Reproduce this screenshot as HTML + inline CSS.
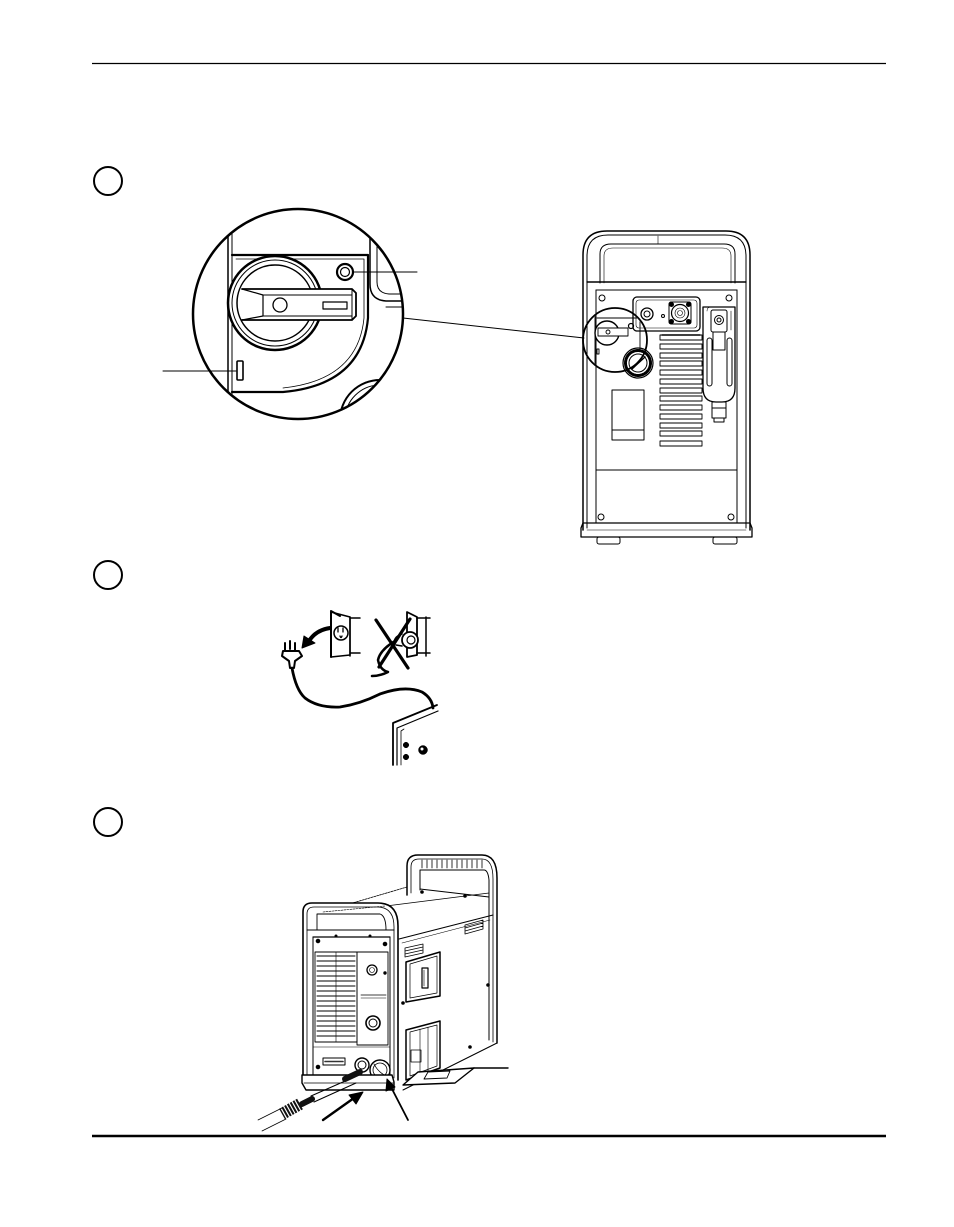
<!DOCTYPE html>
<html><head><meta charset="utf-8"><style>
html,body{margin:0;padding:0;background:#fff;}
svg{display:block;}
</style></head><body>
<svg width="954" height="1227" viewBox="0 0 954 1227" xmlns="http://www.w3.org/2000/svg" fill="none" stroke="#000" stroke-linejoin="round" stroke-linecap="round">
<defs>
<clipPath id="mag"><circle cx="298" cy="314" r="104"/></clipPath>
<clipPath id="mag2"><circle cx="615" cy="340" r="31"/></clipPath>
</defs>
<rect x="0" y="0" width="954" height="1227" fill="#fff" stroke="none"/>
<!-- rules -->
<line x1="92" y1="63.5" x2="886" y2="63.5" stroke-width="1.2" stroke-linecap="butt"/>
<line x1="92" y1="1136" x2="886" y2="1136" stroke-width="2.6" stroke-linecap="butt"/>
<!-- step circles -->
<circle cx="108" cy="181" r="14" stroke-width="2"/>
<circle cx="108" cy="575" r="14" stroke-width="2"/>
<circle cx="108" cy="822" r="14" stroke-width="2"/>

<!-- ===== SECTION 1: magnifier ===== -->
<circle cx="298" cy="314" r="105" fill="#fff" stroke-width="2.5"/>
<g clip-path="url(#mag)">
  <line x1="228" y1="200" x2="228" y2="430" stroke-width="1.5"/>
  <line x1="232" y1="200" x2="232" y2="430" stroke-width="1"/>
  <!-- panel -->
  <path d="M232,255 H368 V318 Q362,385 283,392 H232" stroke-width="2.2"/>
  <path d="M236,259 H364 V318 Q358,380 283,388" stroke-width="0.8"/>
  <!-- right bracket -->
  <path d="M370,200 V284 Q370,300 386,301 H410" stroke-width="1.5"/>
  <path d="M377,200 V282 Q377,293 389,294 H410" stroke-width="1"/>
  <line x1="386" y1="307" x2="410" y2="307" stroke-width="1"/>
  <!-- knob -->
  <circle cx="275" cy="303" r="47" stroke-width="2.5" fill="#fff"/>
  <circle cx="275" cy="303" r="43" stroke-width="1"/>
  <circle cx="275" cy="303" r="38" stroke-width="1.5"/>
  <!-- lever -->
  <path d="M242,289 H352 L356,293 V316 L352,320 H242" fill="#fff" stroke-width="1.8"/>
  <path d="M242,289 L263,295 V316 L242,320" stroke-width="1.2"/>
  <path d="M263,295 H352 M263,316 H352 M352,289 V320" stroke-width="1"/>
  <circle cx="280" cy="305" r="7" stroke-width="1.3"/>
  <rect x="323" y="302" width="24" height="7" stroke-width="1.2"/>
  <!-- button -->
  <circle cx="345" cy="272" r="8" stroke-width="2.2"/>
  <circle cx="345" cy="272" r="4.5" stroke-width="1.2"/>
  <!-- indicator -->
  <rect x="237" y="361" width="6" height="19" rx="1" stroke-width="1.6"/>
  <!-- lower right knob -->
  <circle cx="380" cy="420" r="40" stroke-width="2"/>
  <circle cx="380" cy="420" r="35" stroke-width="1"/>
  <path d="M345,420 Q360,395 385,388 M355,430 Q370,400 398,398" stroke-width="1"/>
</g>
<!-- leaders -->
<line x1="163" y1="371" x2="236" y2="371" stroke-width="1"/>
<line x1="354" y1="272" x2="417" y2="272" stroke-width="1"/>
<line x1="403" y1="318" x2="584" y2="338" stroke-width="1"/>

<!-- ===== SECTION 1: machine rear ===== -->
<g stroke-width="1">
  <path d="M583,530 V255 Q583,231 607,231 H726 Q750,231 750,255 V530" stroke-width="1.5"/>
  <path d="M587,528 V256 Q587,235 608,235 H725 Q746,235 746,256 V528"/>
  <path d="M600,283 V254 Q600,244 611,244 H724 Q735,244 735,254 V283"/>
  <path d="M604,283 V256 Q604,248 613,248 H722 Q731,248 731,256 V283" stroke-width="0.6"/>
  <line x1="658" y1="236" x2="658" y2="244" stroke-width="0.6"/>
  <line x1="587" y1="282" x2="746" y2="282" stroke-width="1.4"/>
  <line x1="596" y1="290" x2="737" y2="290"/>
  <line x1="596" y1="290" x2="596" y2="523"/>
  <line x1="737" y1="290" x2="737" y2="523"/>
  <line x1="596" y1="470" x2="737" y2="470"/>
  <!-- base -->
  <path d="M583,523 H750 L752,528 V537 H581 V528 Z" stroke-width="1.3"/>
  <line x1="587" y1="530" x2="746" y2="530" stroke-width="0.6"/>
  <rect x="597" y="537" width="23" height="7" rx="2"/>
  <rect x="713" y="537" width="24" height="7" rx="2"/>
  <!-- screws -->
  <circle cx="602" cy="298" r="3"/><circle cx="729" cy="298" r="3"/>
  <circle cx="601" cy="517" r="3"/><circle cx="731" cy="517" r="3"/>
  <!-- connector panel -->
  <rect x="633" y="297" width="67" height="34" rx="4" stroke-width="1.3"/>
  <rect x="636" y="300" width="61" height="28" rx="3" stroke-width="0.6"/>
  <circle cx="647" cy="314" r="6" stroke-width="1.3"/>
  <circle cx="647" cy="314" r="3"/>
  <circle cx="663" cy="316" r="1.5"/>
  <rect x="669" y="302" width="22" height="22" rx="2"/>
  <circle cx="680" cy="313" r="8.5" stroke-width="1.2"/>
  <circle cx="680" cy="313" r="5" stroke-width="0.6"/>
  <circle cx="680" cy="313" r="2.5" stroke-width="0.6"/>
  <circle cx="671.5" cy="304.5" r="2" fill="#000"/><circle cx="688.5" cy="304.5" r="2" fill="#000"/>
  <circle cx="671.5" cy="321.5" r="2" fill="#000"/><circle cx="688.5" cy="321.5" r="2" fill="#000"/>
  <!-- vents -->
  <g stroke-width="0.9">
    <rect x="660" y="335" width="42" height="5"/><rect x="660" y="344" width="42" height="5"/>
    <rect x="660" y="353" width="42" height="5"/><rect x="660" y="361" width="42" height="5"/>
    <rect x="660" y="370" width="42" height="5"/><rect x="660" y="379" width="42" height="5"/>
    <rect x="660" y="388" width="42" height="5"/><rect x="660" y="396" width="42" height="5"/>
    <rect x="660" y="405" width="42" height="5"/><rect x="660" y="414" width="42" height="5"/>
    <rect x="660" y="423" width="42" height="5"/><rect x="660" y="431" width="42" height="5"/>
    <rect x="660" y="441" width="42" height="5"/>
  </g>
  <line x1="662" y1="335" x2="700" y2="335" stroke-width="1.6"/>
  <!-- left rect -->
  <rect x="612" y="390" width="32" height="50"/>
  <line x1="612" y1="430" x2="644" y2="430"/>
  <!-- filter -->
  <path d="M703,307 H735 V388 Q735,402 722,402 H716 Q703,402 703,388 Z" stroke-width="1.3"/>
  <path d="M707,311 Q707,307 711,307 M731,311 V330" stroke-width="0.6"/>
  <rect x="711" y="310" width="16" height="22" rx="2"/>
  <circle cx="719" cy="320" r="4.5"/><circle cx="719" cy="320" r="2"/>
  <rect x="707" y="338" width="5" height="48" rx="2.5"/>
  <rect x="727" y="338" width="5" height="48" rx="2.5"/>
  <path d="M713,332 V350 H725 V332"/>
  <rect x="712" y="402" width="14" height="16"/>
  <line x1="712" y1="408" x2="726" y2="408"/>
  <rect x="714" y="418" width="10" height="4"/>
  <!-- knob -->
  <circle cx="638" cy="363" r="15" stroke-width="1.2" fill="#fff"/>
  <circle cx="638" cy="363" r="12.5" stroke-width="3" stroke-dasharray="1.5 1.2"/>
  <circle cx="638" cy="363" r="9"/>
  <line x1="632" y1="369" x2="645" y2="357" stroke-width="1.4"/>
</g>
<!-- small magnifier circle -->
<g clip-path="url(#mag2)" stroke-width="0.9">
  <line x1="595" y1="305" x2="595" y2="380"/>
  <path d="M597,318 H640 V350"/>
  <circle cx="607" cy="333" r="12" fill="#fff" stroke-width="1.4"/>
  <rect x="598" y="328" width="30" height="8" fill="#fff"/>
  <circle cx="608" cy="332" r="2"/>
  <circle cx="631" cy="326" r="2.5" stroke-width="1.2"/>
  <rect x="597" y="349" width="2" height="5"/>
</g>
<circle cx="615" cy="340" r="32" stroke-width="1.8"/>

<!-- ===== SECTION 2 ===== -->
<g stroke-width="1.5">
  <!-- outlet 1 -->
  <path d="M331,611 L340,616 M331,612 V657" stroke-width="2"/>
  <path d="M331,612 L350,617 V655 L331,657" stroke-width="1.5"/>
  <path d="M350,618 H360 M350,653 H360 M350,617 V656" stroke-width="1.5"/>
  <circle cx="341" cy="633" r="7" stroke-width="1.5"/>
  <path d="M338,628 V632 M343,628 V632 M340,636 Q341,639 342,636" stroke-width="1.3"/>
  <!-- arrow -->
  <path d="M330,628 Q316,630 309,641" stroke-width="4"/>
  <path d="M302,648 L304,636 L315,643 Z" fill="#000" stroke-width="1"/>
  <!-- plug -->
  <path d="M285,643 V650 M290,641 V649 M295,643 V650" stroke-width="2"/>
  <path d="M283,651 H299 L302,656 L295,661 L294,668 H290 L289,661 L282,656 Z" fill="#fff" stroke-width="2"/>
  <!-- cord -->
  <path d="M292,668 Q296,690 305,698 Q318,708 340,707 Q360,704 380,694 Q405,685 422,692 Q432,698 433,708" stroke-width="2.8"/>
  <!-- outlet 2 -->
  <path d="M407,612 L417,617 V655 L407,657 Z" stroke-width="1.8"/>
  <path d="M417,618 H430 M417,653 H430 M426,617 V656" stroke-width="1.5"/>
  <circle cx="410" cy="640" r="8" fill="#fff" stroke-width="1.8"/>
  <circle cx="411" cy="640" r="4" stroke-width="1.2"/>
  <path d="M402,634 Q395,636 394,642 M402,646 L396,645" stroke-width="1.5"/>
  <path d="M395,641 Q380,650 378,660 Q380,670 388,672 Q380,676 372,676" stroke-width="2.5"/>
  <!-- X -->
  <line x1="376" y1="620" x2="408" y2="668" stroke-width="3.2"/>
  <line x1="410" y1="619" x2="379" y2="667" stroke-width="3.2"/>
  <!-- machine corner -->
  <path d="M393,765 V723 L437,705" stroke-width="1.8"/>
  <path d="M397,765 V728 L438,711" stroke-width="1.2"/>
  <path d="M401,765 V731 L404,729" stroke-width="0.8"/>
  <circle cx="406" cy="745" r="2.8" fill="#000" stroke-width="0.5"/>
  <circle cx="406" cy="757" r="2.8" fill="#000" stroke-width="0.5"/>
  <circle cx="423" cy="750" r="4.5" fill="#000" stroke-width="0.5"/>
  <circle cx="422" cy="749" r="1.5" fill="#fff" stroke="none"/>
</g>

<!-- ===== SECTION 3 ===== -->
<g stroke-width="1">
  <!-- back handle -->
  <path d="M407,895 V866 Q407,855 418,855 H482 Q497,855 497,878 V1043" stroke-width="1.5"/>
  <path d="M411,893 V867 Q411,859 419,859 H482 Q493,859 493,879 V1042" stroke-width="0.8"/>
  <path d="M420,890 V870 H484 Q488,870 489,880 V1040" />
  <g stroke-width="0.8">
    <path d="M422,860 V868 M427,860 V868 M432,860 V868 M437,860 V868 M442,860 V868 M447,860 V868 M452,860 V868 M457,860 V868 M462,860 V868 M467,860 V868 M472,860 V868 M477,860 V868 M482,860 V868"/>
  </g>
  <!-- top surface lines -->
  <line x1="322" y1="912" x2="407" y2="887" stroke-width="0.8" stroke-dasharray="2 1"/>
  <line x1="420" y1="889" x2="489" y2="897"/>
  <line x1="386" y1="906" x2="489" y2="893" stroke-width="0.7"/>
  <line x1="399" y1="939" x2="493" y2="915"/>
  <line x1="402" y1="943" x2="490" y2="920" stroke-width="0.6"/>
  <circle cx="422" cy="892" r="1.3" fill="#000"/><circle cx="465" cy="896" r="1.3" fill="#000"/>
  <!-- side face -->
  <line x1="497" y1="1043" x2="489" y2="1047"/>
  <line x1="403" y1="1090" x2="489" y2="1047"/>
  <circle cx="488" cy="985" r="1.3" fill="#000"/><circle cx="403" cy="1003" r="1.3" fill="#000"/>
  <circle cx="470" cy="1047" r="1.3" fill="#000"/>
  <g stroke-width="0.8">
    <path d="M465,925 L483,920 M465,928 L483,923 M465,931 L483,926 M465,934 L483,929 M465,925 V934 M483,920 V929"/>
    <path d="M405,948 L423,944 M405,951 L423,947 M405,954 L423,950 M405,957 L423,953 M405,948 V957 M423,944 V953"/>
  </g>
  <path d="M406,962 L440,952 V996 L406,1002 Z" stroke-width="1.5"/>
  <path d="M410,964 L437,956 V993 L410,998 Z" stroke-width="0.7"/>
  <rect x="422" y="968" width="6" height="20" stroke-width="1.2"/>
  <line x1="424" y1="970" x2="424" y2="986" stroke-width="0.6"/>
  <path d="M406,1030 L440,1021 V1068 L406,1080 Z" stroke-width="1.5"/>
  <path d="M410,1032 L437,1025 V1066 L410,1076 Z" stroke-width="0.7"/>
  <path d="M420,1029 V1074 M428,1027 V1071" stroke-width="0.6"/>
  <rect x="411" y="1050" width="10" height="12" stroke-width="0.8"/>
  <!-- pedal -->
  <path d="M403,1085 L418,1072 L474,1068 L455,1083 Z" fill="#fff" stroke-width="1.4"/>
  <path d="M428,1072 L450,1071 L447,1078 L424,1079 Z" stroke-width="0.9"/>
  <line x1="474" y1="1068" x2="508" y2="1068" stroke-width="1.4"/>
  <!-- front frame -->
  <path d="M303,1077 V912 Q303,903 312,903 H378 Q398,903 398,926 V1080" stroke-width="1.6" fill="#fff"/>
  <path d="M307,1075 V914 Q307,907 314,907 H377 Q394,907 394,927 V1078" stroke-width="0.8"/>
  <path d="M317,930 V914 H380 Q386,916 386,930" stroke-width="0.9"/>
  <line x1="323" y1="912" x2="385" y2="906" stroke-width="0.6" stroke-dasharray="2 1"/>
  <line x1="307" y1="930" x2="394" y2="930"/>
  <line x1="313" y1="937" x2="390" y2="937" stroke-width="1.2"/>
  <line x1="313" y1="937" x2="313" y2="1075"/>
  <line x1="390" y1="937" x2="390" y2="1075"/>
  <line x1="313" y1="1047" x2="390" y2="1047" stroke-width="0.6"/>
  <circle cx="318" cy="941" r="1.8" fill="#000"/><circle cx="385" cy="944" r="1.8" fill="#000"/>
  <circle cx="318" cy="1067" r="1.8" fill="#000"/><circle cx="336" cy="936" r="1" fill="#000"/><circle cx="370" cy="936" r="1" fill="#000"/>
  <!-- vent grill -->
  <rect x="315" y="952" width="42" height="90" stroke-width="0.9"/>
  <line x1="336" y1="952" x2="336" y2="1042" stroke-width="0.6"/>
  <g stroke-width="1">
    <path d="M317,956 H355 M317,961 H355 M317,966 H355 M317,971 H355 M317,976 H355 M317,981 H355 M317,986 H355 M317,991 H355 M317,996 H355 M317,1001 H355 M317,1006 H355 M317,1011 H355 M317,1016 H355 M317,1021 H355 M317,1026 H355 M317,1031 H355 M317,1036 H355"/>
  </g>
  <rect x="357" y="952" width="31" height="93" stroke-width="0.9"/>
  <circle cx="372" cy="970" r="5" stroke-width="1.3"/>
  <circle cx="372" cy="970" r="2.5" stroke-width="0.6"/>
  <circle cx="385" cy="973" r="1.2" fill="#000"/>
  <line x1="361" y1="995" x2="386" y2="995" stroke-width="0.8"/>
  <line x1="361" y1="998" x2="386" y2="998" stroke-width="0.5"/>
  <circle cx="373" cy="1023" r="7" stroke-width="1.6"/>
  <circle cx="373" cy="1023" r="4" stroke-width="1"/>
  <!-- bottom front -->
  <rect x="323" y="1058" width="22" height="7" fill="#fff" stroke-width="1"/>
  <line x1="325" y1="1061.5" x2="343" y2="1061.5" stroke-width="1.6" stroke="#333"/>
  <circle cx="362" cy="1065" r="7" stroke-width="1.4"/>
  <circle cx="362" cy="1065" r="4" stroke-width="1"/>
  <circle cx="380" cy="1070" r="10" stroke-width="1.4"/>
  <circle cx="380" cy="1070" r="7" stroke-width="0.8"/>
  <path d="M374,1064 Q378,1072 386,1076" stroke-width="0.8"/>
  <!-- base plate -->
  <path d="M302,1075 H392 L394,1082 V1090 H306 L302,1083 Z" stroke-width="1.4" fill="#fff"/>
  <line x1="304" y1="1083" x2="394" y2="1083" stroke-width="0.8"/>
  <!-- cable -->
  <path d="M352,1078 L311,1096 M356,1083 L314,1102" stroke-width="1"/>
  <path d="M345,1079 L360,1072" stroke-width="6" stroke="#111"/>
  <path d="M312,1099 L302,1104" stroke-width="6" stroke="#111"/>
  <path d="M300,1104 L282,1114" stroke-width="12" stroke="#111" stroke-linecap="butt" stroke-dasharray="2 1.2"/>
  <path d="M282,1108 L258,1120 M286,1119 L262,1131" stroke-width="0.8"/>
  <!-- arrows -->
  <line x1="323" y1="1120" x2="354" y2="1098" stroke-width="2.4"/>
  <path d="M363,1092 L349,1095 L356,1104 Z" fill="#000" stroke-width="1"/>
  <line x1="408" y1="1120" x2="392" y2="1089" stroke-width="1.8"/>
  <path d="M387,1079 L386,1091 L395,1087 Z" fill="#000" stroke-width="1"/>
</g>
</svg>
</body></html>
